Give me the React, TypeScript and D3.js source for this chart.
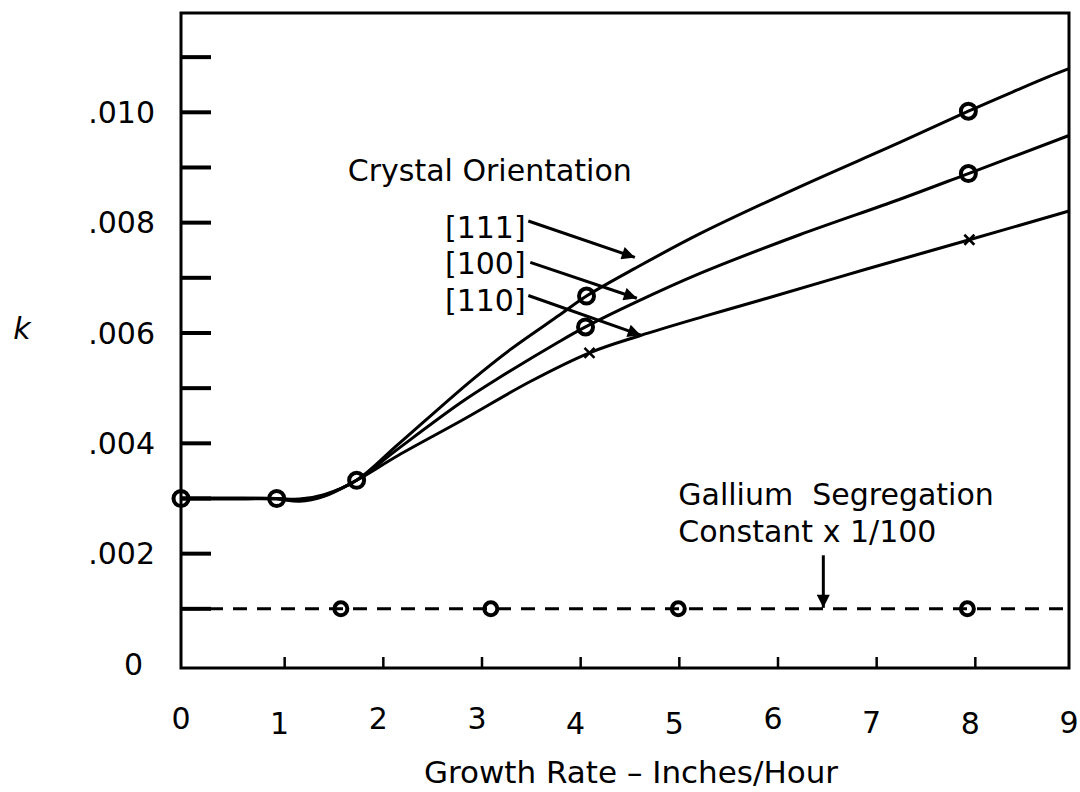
import React from "react";
import * as d3 from "d3";

const WIDTH = 1080;
const HEIGHT = 792;
const FONT = "'DejaVu Sans', Verdana, sans-serif";

// growth rate ticks and k ticks
const X_TICKS = [0, 1, 2, 3, 4, 5, 6, 7, 8, 9];
const Y_MINOR_TICKS = [0.001, 0.002, 0.003, 0.004, 0.005, 0.006, 0.007, 0.008, 0.009, 0.01, 0.011];
const Y_LABELS = [0, 0.002, 0.004, 0.006, 0.008, 0.01];

// curves: [growth rate, k]
const CURVE_111: [number, number][] = [
  [0, 0.00301], [0.5, 0.00301], [0.97, 0.003], [1.2, 0.00299], [1.45, 0.00307], [1.78, 0.00333],
  [2.2, 0.00398], [2.93, 0.00512], [3.33, 0.00569], [3.84, 0.00633],
  [4.11, 0.00667], [4.6, 0.00717], [5.26, 0.0078], [6.27, 0.00865], [7.28, 0.00945],
  [7.98, 0.01002], [8.47, 0.0104], [8.8, 0.01065], [9.0, 0.01079],
];
const CURVE_100: [number, number][] = [
  [0, 0.003], [0.5, 0.003], [0.97, 0.003], [1.2, 0.00297], [1.45, 0.00306], [1.78, 0.00333],
  [2.2, 0.0039], [2.83, 0.00473], [3.2, 0.00516], [3.84, 0.00585], [4.1, 0.00611],
  [4.6, 0.00655], [5.26, 0.00708], [6.27, 0.00778], [7.28, 0.00842], [7.98, 0.00889],
  [9.0, 0.00958],
];
const CURVE_110: [number, number][] = [
  [0, 0.00299], [0.5, 0.00299], [0.97, 0.00299], [1.2, 0.00295], [1.45, 0.00304], [1.78, 0.00333],
  [2.2, 0.00378], [2.83, 0.0044], [3.54, 0.00512], [4.14, 0.00564], [4.65, 0.00595],
  [5.3, 0.0063], [5.94, 0.00663], [6.95, 0.00716], [7.99, 0.00769], [9.0, 0.00821],
];

// measured points
const CIRCLES_111: [number, number][] = [[0, 0.003], [0.97, 0.003], [1.78, 0.00333], [4.11, 0.00667], [7.98, 0.01002]];
const CIRCLES_100: [number, number][] = [[4.1, 0.00611], [7.98, 0.00889]];
const CROSSES_110: [number, number][] = [[4.14, 0.00564], [7.99, 0.00769]];

// gallium segregation constant x 1/100
const GALLIUM_K = 0.001;
const GALLIUM_X = [1.62, 3.14, 5.04, 7.97];

const SERIES_LABELS = ["[111]", "[100]", "[110]"];

const x = d3.scaleLinear().domain([0, 9]).range([181, 1069]);
const y = d3.scaleLinear().domain([0, 0.0118]).range([664, 13]);

const fmtK = (v: number) => (v === 0 ? "0" : d3.format(".3f")(v).replace(/^0/, ""));

const line = d3
  .line<[number, number]>()
  .x((d) => x(d[0]))
  .y((d) => y(d[1]))
  .curve(d3.curveCatmullRom.alpha(0.5));

// annotation anchors in data space
const NOTE_TITLE = { gx: 1.69, k: 0.00875 };
const NOTE_LABELS = [
  { gx: 2.675, k: 0.00772, from: [3.52, 0.00803], to: [4.6, 0.00737] },
  { gx: 2.675, k: 0.00707, from: [3.54, 0.00728], to: [4.62, 0.00663] },
  { gx: 2.675, k: 0.00639, from: [3.52, 0.00668], to: [4.66, 0.00596] },
];
const NOTE_GALLIUM = { gx: 5.04, k1: 0.00288, k2: 0.00221, arrowX: 6.51, arrowFrom: 0.00197 };

const X_LABEL_DY = [0, 5, 0, 0, 5, 5, 0, 4, 5, 4];

export default function App() {
  const bottom = y(0) + 4;
  const circle = (d: [number, number], i: number, r = 7.5) => (
    <circle key={i} cx={x(d[0])} cy={y(d[1])} r={r} fill="none" stroke="#000" strokeWidth={4} />
  );
  return (
    <svg
      width={WIDTH}
      height={HEIGHT}
      style={{ position: "absolute", left: 0, top: 0, background: "#fff" }}
      fontFamily={FONT}
    >
      <defs>
        <marker
          id="arrow"
          viewBox="0 0 10 10"
          refX={10}
          refY={5}
          markerWidth={17}
          markerHeight={13}
          markerUnits="userSpaceOnUse"
          orient="auto"
        >
          <path d="M0,0 L10,5 L0,10 z" fill="#000" />
        </marker>
      </defs>

      {/* frame */}
      <rect x={x(0)} y={y(0.0118)} width={x(9) - x(0)} height={bottom - y(0.0118)} fill="none" stroke="#000" strokeWidth={3} />

      {/* y ticks */}
      {Y_MINOR_TICKS.map((t) => (
        <line key={t} x1={x(0)} x2={x(0) + 30} y1={y(t)} y2={y(t)} stroke="#000" strokeWidth={4} />
      ))}
      {Y_LABELS.map((t) => (
        <text
          key={t}
          x={t === 0 ? x(0) - 38 : x(0) - 26}
          y={y(t)}
          dy="0.36em"
          textAnchor="end"
          fontSize={30}
          fill="#000"
        >
          {fmtK(t)}
        </text>
      ))}
      <text x={22} y={328} dy="0.36em" textAnchor="middle" fontSize={30} fontStyle="italic" fill="#000">
        k
      </text>

      {/* x ticks */}
      {X_TICKS.slice(1, -1).map((t) => (
        <line key={t} x1={x(t) + 5} x2={x(t) + 5} y1={bottom} y2={bottom - 11} stroke="#000" strokeWidth={2.5} />
      ))}
      {X_TICKS.map((t, i) => (
        <text key={t} x={x(t)} y={729 + X_LABEL_DY[i]} textAnchor="middle" fontSize={30} fill="#000">
          {t}
        </text>
      ))}
      <text x={631} y={783} textAnchor="middle" fontSize={31} fill="#000">
        Growth Rate – Inches/Hour
      </text>

      {/* gallium dashed line */}
      <line
        x1={x(0)}
        x2={x(9)}
        y1={y(GALLIUM_K)}
        y2={y(GALLIUM_K)}
        stroke="#000"
        strokeWidth={3}
        strokeDasharray="14 10"
        strokeDashoffset={-4}
      />
      {GALLIUM_X.map((g, i) => circle([g, GALLIUM_K], i, 6.5))}

      {/* curves */}
      {[CURVE_111, CURVE_100, CURVE_110].map((c, i) => (
        <path key={i} d={line(c) ?? ""} fill="none" stroke="#000" strokeWidth={3} />
      ))}
      {CIRCLES_111.map((d, i) => circle(d, i))}
      {CIRCLES_100.map((d, i) => circle(d, i))}
      {CROSSES_110.map((d, i) => (
        <path
          key={i}
          d={`M${x(d[0]) - 5},${y(d[1]) - 5}L${x(d[0]) + 5},${y(d[1]) + 5}M${x(d[0]) - 5},${y(d[1]) + 5}L${x(d[0]) + 5},${y(d[1]) - 5}`}
          stroke="#000"
          strokeWidth={2.5}
        />
      ))}

      {/* annotations */}
      <text x={x(NOTE_TITLE.gx)} y={y(NOTE_TITLE.k)} fontSize={30} fill="#000">
        Crystal Orientation
      </text>
      {NOTE_LABELS.map((n, i) => (
        <g key={i}>
          <text x={x(n.gx)} y={y(n.k)} fontSize={30} fill="#000">
            {SERIES_LABELS[i]}
          </text>
          <line
            x1={x(n.from[0])}
            y1={y(n.from[1])}
            x2={x(n.to[0])}
            y2={y(n.to[1])}
            stroke="#000"
            strokeWidth={3}
            markerEnd="url(#arrow)"
          />
        </g>
      ))}
      <text x={x(NOTE_GALLIUM.gx)} y={y(NOTE_GALLIUM.k1)} fontSize={30} fill="#000" style={{ whiteSpace: "pre" }}>
        {"Gallium  Segregation"}
      </text>
      <text x={x(NOTE_GALLIUM.gx)} y={y(NOTE_GALLIUM.k2)} fontSize={30} fill="#000">
        Constant x 1/100
      </text>
      <line
        x1={x(NOTE_GALLIUM.arrowX)}
        x2={x(NOTE_GALLIUM.arrowX)}
        y1={y(NOTE_GALLIUM.arrowFrom)}
        y2={y(GALLIUM_K) - 1}
        stroke="#000"
        strokeWidth={3}
        markerEnd="url(#arrow)"
      />
    </svg>
  );
}
